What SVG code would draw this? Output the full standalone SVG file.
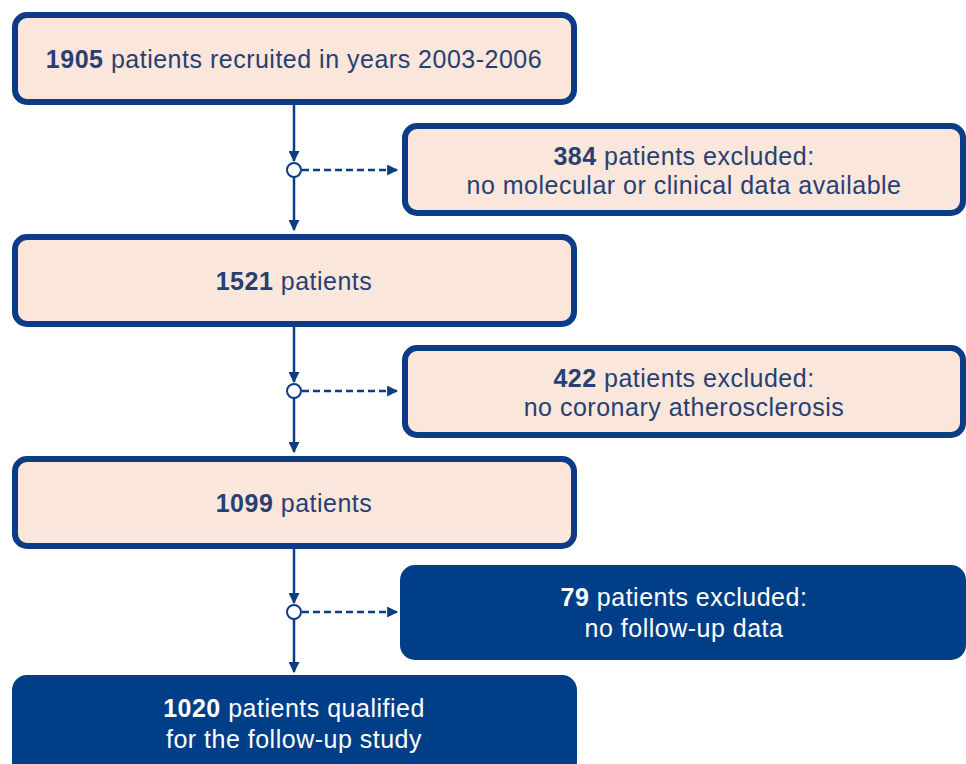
<svg xmlns="http://www.w3.org/2000/svg" width="966" height="764" viewBox="0 0 966 764">
<style>
.lb{fill:#fae6da;stroke:#0c3c85;stroke-width:6}
.db{fill:#003f87;stroke:#003f87;stroke-width:2}
text{font-family:"Liberation Sans","DejaVu Sans",sans-serif;font-size:25px;letter-spacing:0.5px;text-anchor:middle}
.lt{fill:#273f72}
.dt{fill:#ffffff}
.b{font-weight:bold}
.ln{stroke:#0c3c85;stroke-width:2.5;fill:none}
.dash{stroke:#0c3c85;stroke-width:2.5;fill:none;stroke-dasharray:7,4}
.c{fill:#ffffff;stroke:#0c3c85;stroke-width:2}
</style>
<defs>
<marker id="ah" viewBox="0 0 10 10" refX="9" refY="5" markerWidth="4.4" markerHeight="4.4" orient="auto">
<path d="M0,0 L10,5 L0,10 z" fill="#0c3c85"/>
</marker>
</defs>
<rect width="966" height="764" fill="#ffffff"/>
<g id="connectors">
<line class="ln" x1="294" y1="105" x2="294" y2="161" marker-end="url(#ah)"/>
<line class="ln" x1="294" y1="177" x2="294" y2="230" marker-end="url(#ah)"/>
<line class="dash" x1="302" y1="170" x2="397" y2="170" marker-end="url(#ah)"/>
<circle class="c" cx="294" cy="170" r="7"/>
<line class="ln" x1="294" y1="327" x2="294" y2="382" marker-end="url(#ah)"/>
<line class="ln" x1="294" y1="398" x2="294" y2="452" marker-end="url(#ah)"/>
<line class="dash" x1="302" y1="391" x2="397" y2="391" marker-end="url(#ah)"/>
<circle class="c" cx="294" cy="391" r="7"/>
<line class="ln" x1="294" y1="549" x2="294" y2="603" marker-end="url(#ah)"/>
<line class="ln" x1="294" y1="619" x2="294" y2="672" marker-end="url(#ah)"/>
<line class="dash" x1="302" y1="612" x2="397" y2="612" marker-end="url(#ah)"/>
<circle class="c" cx="294" cy="612" r="7"/>
</g>
<g id="n1">
<rect class="lb" x="15" y="15" width="559" height="87" rx="12"/>
<text class="lt" x="294" y="68"><tspan class="b">1905</tspan> patients recruited in years 2003-2006</text>
</g>
<g id="e1">
<rect class="lb" x="405" y="126" width="558" height="87" rx="12"/>
<text class="lt" x="684" y="165"><tspan class="b">384</tspan> patients excluded:</text>
<text class="lt" x="684" y="194">no molecular or clinical data available</text>
</g>
<g id="n2">
<rect class="lb" x="15" y="237" width="559" height="87" rx="12"/>
<text class="lt" x="294" y="290"><tspan class="b">1521</tspan> patients</text>
</g>
<g id="e2">
<rect class="lb" x="405" y="348" width="558" height="87" rx="12"/>
<text class="lt" x="684" y="387"><tspan class="b">422</tspan> patients excluded:</text>
<text class="lt" x="684" y="416">no coronary atherosclerosis</text>
</g>
<g id="n3">
<rect class="lb" x="15" y="459" width="559" height="87" rx="12"/>
<text class="lt" x="294" y="512"><tspan class="b">1099</tspan> patients</text>
</g>
<g id="e3">
<rect class="db" x="401" y="566" width="564" height="93" rx="14"/>
<text class="dt" x="684" y="606"><tspan class="b">79</tspan> patients excluded:</text>
<text class="dt" x="684" y="637">no follow-up data</text>
</g>
<g id="n4">
<rect class="db" x="13" y="676" width="563" height="100" rx="14"/>
<text class="dt" x="294" y="717"><tspan class="b">1020</tspan> patients qualified</text>
<text class="dt" x="294" y="748">for the follow-up study</text>
</g>
</svg>
